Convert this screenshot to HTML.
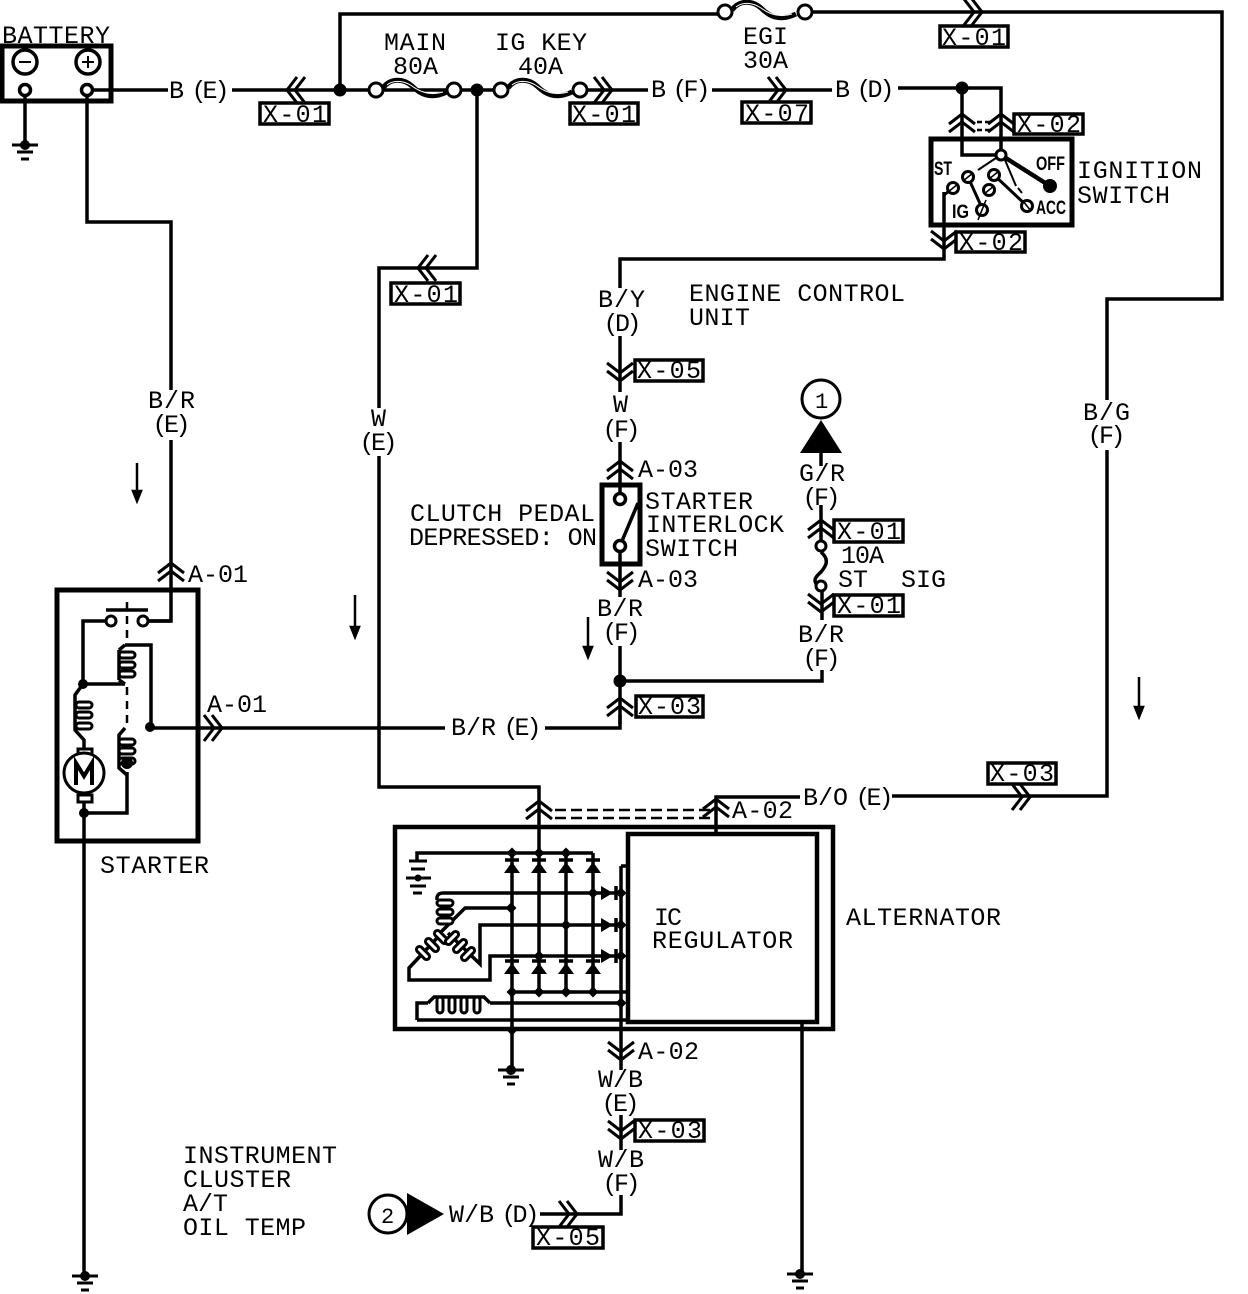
<!DOCTYPE html>
<html><head><meta charset="utf-8"><style>
html,body{margin:0;padding:0;background:#fff}
svg{display:block}
text{font-family:"Liberation Mono",monospace;font-size:25px;fill:#000;stroke:none}
.s{font-family:"Liberation Sans",sans-serif;font-weight:bold;font-size:19.5px}
</style></head><body>
<svg width="1248" height="1294" viewBox="0 0 1248 1294" xmlns="http://www.w3.org/2000/svg">
<defs>
<g id="up" fill="none" stroke="#000" stroke-width="3"><path d="M-13,10 L0,0 L13,10"/><path d="M-13,18 L0,8 L13,18"/></g>
<g id="gnd" stroke="#000" stroke-width="3"><path d="M-13,0H13M-8,7H8M-4,14H4"/><circle r="3.5" fill="#000"/></g>
<g id="dv"><path d="M-8,13 L0,2 L8,13Z" fill="#000"/><path d="M-7,0H7" stroke="#000" stroke-width="3.5"/></g>
<g id="dh"><path d="M-9,-7 L3,0 L-9,7Z" fill="#000"/><path d="M6,-7V7" stroke="#000" stroke-width="3.5"/></g>
<path id="dm" d="M-5.5,0 L0,-5.5 L5.5,0 L0,5.5Z" fill="#000"/>
<g id="fuse" fill="none"><path d="M0,0 C7,-10 20,-10 29,-2 C37,6 47,12 64,4" stroke="#000" stroke-width="5"/><path d="M4,-3 C10,-8 20,-8 29,-2 C37,4 47,8 60,4" stroke="#fff" stroke-width="1"/></g>
<rect id="ovH" x="0" y="-3" width="16" height="6" rx="3" fill="#fff" stroke="#000" stroke-width="3"/>
</defs>

<!-- wires -->
<g fill="none" stroke="#000" stroke-width="3.5">
<path d="M87,90H168M232,90H369M383,90H447M461,90H494M588,90H648M712,90H832M898,88H1001V150"/>
<path d="M962,88V155H996"/>
<path d="M340,90V14H720M812,12H1222V299H1107V400M1107,450V796H892M800,797H716V833"/>
<path d="M87,95V222H171V390M171,440V621H148"/>
<path d="M25,95V145"/>
<path d="M477,90V268H379V408M379,456V787H539V992"/>
<path d="M944,192V259H620V288M620,336V392M620,442V494M620,551V597M620,646V724"/>
<path d="M620,681H822V670M822,620V592M821,552V505M821,453V466"/>
<path d="M150,728H445M545,728H620V715"/>
<path d="M84,802V1275M84,813H127V772"/>
<path d="M802,1022V1272"/>
<path d="M621,1050V1070M621,1115V1150M621,1195V1214H540"/>
<path d="M106,621H83V684H125"/>
<path d="M125,645H151V728"/>
<path d="M83,684L75,695V730L84,740V748"/>
<path d="M119,650L125,645M119,680L125,684M125,728L119,735V768L127,775"/>
</g>

<!-- thick boxes -->
<g fill="none" stroke="#000">
<rect x="2" y="46" width="109" height="55" stroke-width="5"/>
<rect x="931" y="139" width="141" height="86" stroke-width="5"/>
<rect x="602" y="485" width="38" height="79" stroke-width="5"/>
<rect x="57" y="590" width="141" height="251" stroke-width="5"/>
<rect x="395" y="827" width="438" height="202" stroke-width="4.5"/>
<rect x="628" y="834" width="189" height="188" stroke-width="4.5"/>
</g>

<!-- label boxes -->
<g fill="#fff" stroke="#000" stroke-width="3.5">
<rect x="260" y="103" width="69" height="21"/><rect x="570" y="103" width="68" height="21"/>
<rect x="742" y="102" width="69" height="21"/><rect x="940" y="26" width="68" height="21"/>
<rect x="1014" y="114" width="69" height="20"/><rect x="956" y="232" width="69" height="20"/>
<rect x="391" y="283" width="69" height="21"/><rect x="635" y="360" width="68" height="21"/>
<rect x="834" y="520" width="69" height="22"/><rect x="834" y="595" width="69" height="21"/>
<rect x="636" y="696" width="67" height="21"/><rect x="988" y="763" width="68" height="21"/>
<rect x="635" y="1120" width="69" height="21"/><rect x="533" y="1227" width="70" height="21"/>
</g>

<!-- battery -->
<g fill="#fff" stroke="#000" stroke-width="3.5">
<circle cx="25" cy="62" r="12"/><circle cx="88" cy="62" r="12"/>
<circle cx="25" cy="90" r="5.5"/><circle cx="87" cy="90" r="5.5"/>
</g>
<path d="M19,62H31M82,62H94M88,56V68" stroke="#000" stroke-width="2"/>
<use href="#gnd" x="25" y="145"/><use href="#gnd" x="85" y="1276"/><use href="#gnd" x="800" y="1274"/><use href="#gnd" x="511" y="1070"/>

<!-- fuses -->
<use href="#fuse" x="383" y="88"/><use href="#fuse" x="508" y="88"/><use href="#fuse" x="732" y="10"/>
<g fill="#fff" stroke="#000" stroke-width="3">
<circle cx="376" cy="90" r="7"/><circle cx="454" cy="90" r="7"/><circle cx="501" cy="90" r="7"/><circle cx="580" cy="90" r="7"/>
<circle cx="725" cy="12" r="7"/><circle cx="805" cy="12" r="7"/>
</g>
<g fill="#000"><circle cx="340" cy="90" r="6.5"/><circle cx="477" cy="90" r="6.5"/><circle cx="962" cy="88" r="6.5"/><circle cx="620" cy="681" r="6.5"/></g>

<!-- connectors -->
<use href="#up" transform="translate(287,90) rotate(-90)"/>
<use href="#up" transform="translate(612,90) rotate(90)"/>
<use href="#up" transform="translate(786,90) rotate(90)"/>
<use href="#up" transform="translate(982,12) rotate(90)"/>
<use href="#up" transform="translate(962,114)"/>
<use href="#up" transform="translate(1001,114)"/>
<use href="#up" transform="translate(944,249) rotate(180)"/>
<use href="#up" transform="translate(418,268) rotate(-90)"/>
<use href="#up" transform="translate(620,381) rotate(180)"/>
<use href="#up" transform="translate(620,461)"/>
<use href="#up" transform="translate(620,590) rotate(180)"/>
<use href="#up" transform="translate(620,698)"/>
<use href="#up" transform="translate(821,520)"/>
<use href="#up" transform="translate(821,612) rotate(180)"/>
<use href="#up" transform="translate(171,563)"/>
<use href="#up" transform="translate(222,728) rotate(90)"/>
<use href="#up" transform="translate(1030,797) rotate(90)"/>
<use href="#up" transform="translate(539,801)"/>
<use href="#up" transform="translate(716,799)"/>
<use href="#up" transform="translate(621,1060) rotate(180)"/>
<use href="#up" transform="translate(621,1139) rotate(180)"/>
<use href="#up" transform="translate(577,1214) rotate(90)"/>

<!-- ignition switch internals -->
<g fill="none" stroke="#000" stroke-width="3">
<path d="M1001,155 L1050,186" stroke-width="4.5"/>
<path d="M996,158 L978,170" stroke-width="2"/>
<path d="M1005,160 L1016,186M1018,188 L1022,193" stroke-width="2" />
<path d="M968,177 L982,208"/><path d="M994,175 L1027,206"/>
<path d="M953,188 L944,195"/>
</g>
<path d="M977,122 H993 M977,130 H993" stroke="#000" stroke-width="2.5" stroke-dasharray="5 3"/>
<g fill="#fff" stroke="#000" stroke-width="3">
<circle cx="1001" cy="155" r="5"/><circle cx="968" cy="177" r="5.5"/><circle cx="994" cy="175" r="5.5"/>
<circle cx="953" cy="188" r="5.5"/><circle cx="989" cy="190" r="5.5"/><circle cx="982" cy="210" r="5.5"/><circle cx="1027" cy="206" r="5.5"/>
</g>
<circle cx="1050" cy="186" r="7" fill="#000"/>
<g stroke="#000" stroke-width="1.6"><path d="M963,181L973,173M989,179L999,171M948,192L958,184M984,194L994,186M978,220L986,200M1023,201L1031,211"/></g>
<text class="s" x="934" y="175" textLength="18" lengthAdjust="spacingAndGlyphs">ST</text>
<text class="s" x="952" y="218" textLength="17" lengthAdjust="spacingAndGlyphs">IG</text>
<text class="s" x="1036" y="170" textLength="29" lengthAdjust="spacingAndGlyphs">OFF</text>
<text class="s" x="1036" y="214" textLength="30" lengthAdjust="spacingAndGlyphs">ACC</text>

<!-- interlock switch -->
<g fill="#fff" stroke="#000" stroke-width="3.5"><circle cx="620" cy="499" r="5.5"/><circle cx="620" cy="546" r="5.5"/></g>
<path d="M622,541 L638,503" stroke="#000" stroke-width="3.5"/>

<!-- relay 1 / fuse 10A -->
<circle cx="821" cy="399" r="19" fill="#fff" stroke="#000" stroke-width="3"/>
<path d="M821,420 L800,453 H842Z" fill="#000"/>
<path d="M821,552 C830,560 826,566 821,572 C814,578 812,582 821,588" fill="none" stroke="#000" stroke-width="3.5"/>
<g fill="#fff" stroke="#000" stroke-width="3"><circle cx="821" cy="546" r="5"/><circle cx="821" cy="586" r="5"/></g>

<circle cx="388" cy="1214" r="19" fill="#fff" stroke="#000" stroke-width="3"/>
<path d="M407,1193 L444,1214 L407,1235Z" fill="#000"/>

<!-- direction arrows -->
<g stroke="#000" stroke-width="2.5" fill="#000">
<path d="M137,463V495"/><path d="M133,491L137,501L141,491Z"/>
<path d="M355,595V630"/><path d="M351,627L355,637L359,627Z"/>
<path d="M588,617V650"/><path d="M584,647L588,657L592,647Z"/>
<path d="M1139,677V710"/><path d="M1135,707L1139,717L1143,707Z"/>
</g>

<!-- starter internals -->
<path d="M106,610H148" stroke="#000" stroke-width="3.5" fill="none"/>
<path d="M127,602V643M127,687V724" stroke="#000" stroke-width="2.5" stroke-dasharray="8 6" fill="none"/>
<g fill="#fff" stroke="#000" stroke-width="3"><circle cx="111" cy="621" r="5"/><circle cx="143" cy="621" r="5"/></g>
<path d="M148,621H171" stroke="#000" stroke-width="3.5"/>
<use href="#ovH" x="119" y="655"/><use href="#ovH" x="119" y="665"/><use href="#ovH" x="119" y="674"/>
<use href="#ovH" x="119" y="742"/><use href="#ovH" x="119" y="751"/><use href="#ovH" x="119" y="761"/>
<use href="#ovH" x="76" y="705"/><use href="#ovH" x="76" y="715"/><use href="#ovH" x="76" y="726"/>
<path d="M119,650V680" stroke="#000" stroke-width="3.5"/>
<circle cx="127" cy="763" r="6" fill="#000"/>
<g fill="#000"><circle cx="83" cy="684" r="5"/><circle cx="150" cy="727" r="5"/><circle cx="84" cy="813" r="5"/></g>
<rect x="78" y="749" width="14" height="7" fill="#fff" stroke="#000" stroke-width="3"/>
<rect x="78" y="795" width="14" height="7" fill="#fff" stroke="#000" stroke-width="3"/>
<circle cx="84" cy="773" r="20" fill="#fff" stroke="#000" stroke-width="3"/>
<path d="M76,785V763L84,776L92,763V785" fill="none" stroke="#000" stroke-width="4"/>

<!-- alternator internals -->
<path d="M555,810H716M555,818H716" stroke="#000" stroke-width="2.5" stroke-dasharray="11 5"/>
<g fill="none" stroke="#000" stroke-width="3.5">
<path d="M417,860V853H593"/>
<path d="M512,853V1070M566,853V992M593,853V992"/>
<path d="M437,900V897Q438,893 443,893H620"/>
<path d="M511,908H465L440,933"/>
<path d="M620,925H480V964L448,933"/>
<path d="M620,956H490V980H409V968L438,937"/>
<path d="M511,992H628"/>
<path d="M490,1003H621M417,1020H628M417,1020V1003H428"/>
<path d="M621,866V1050M621,866H628"/>
<path d="M428,1003l6,-6H484l6,6"/>
</g>
<path d="M409,861H427M411,869H425M406,878H431M410,886H426M413,893H422" stroke="#000" stroke-width="3" fill="none"/>
<circle cx="418" cy="878" r="3.5" fill="#000"/>
<g>
<use href="#ovH" x="437" y="903"/><use href="#ovH" x="437" y="912"/><use href="#ovH" x="437" y="921"/>
<use href="#ovH" transform="translate(423,953) rotate(45) translate(-8,0)"/>
<use href="#ovH" transform="translate(432,945) rotate(45) translate(-8,0)"/>
<use href="#ovH" transform="translate(441,937) rotate(45) translate(-8,0)"/>
<use href="#ovH" transform="translate(452,938) rotate(-45) translate(-8,0)"/>
<use href="#ovH" transform="translate(460,946) rotate(-45) translate(-8,0)"/>
<use href="#ovH" transform="translate(468,954) rotate(-45) translate(-8,0)"/>
<use href="#ovH" transform="translate(440,1005) rotate(90) translate(-8,0)"/>
<use href="#ovH" transform="translate(452,1005) rotate(90) translate(-8,0)"/>
<use href="#ovH" transform="translate(464,1005) rotate(90) translate(-8,0)"/>
<use href="#ovH" transform="translate(477,1005) rotate(90) translate(-8,0)"/>
</g>
<use href="#dv" x="512" y="860"/><use href="#dv" x="539" y="860"/><use href="#dv" x="566" y="860"/><use href="#dv" x="593" y="860"/>
<use href="#dv" x="512" y="961"/><use href="#dv" x="539" y="961"/><use href="#dv" x="566" y="961"/><use href="#dv" x="593" y="961"/>
<use href="#dh" x="610" y="893"/><use href="#dh" x="610" y="925"/><use href="#dh" x="610" y="956"/>
<use href="#dm" x="512" y="853"/><use href="#dm" x="539" y="853"/><use href="#dm" x="566" y="853"/>
<use href="#dm" x="593" y="893"/><use href="#dm" x="621" y="893"/><use href="#dm" x="511" y="908"/><use href="#dm" x="566" y="925"/><use href="#dm" x="621" y="925"/><use href="#dm" x="539" y="956"/><use href="#dm" x="621" y="956"/>
<use href="#dm" x="512" y="992"/><use href="#dm" x="539" y="992"/><use href="#dm" x="566" y="992"/><use href="#dm" x="593" y="992"/><use href="#dm" x="621" y="1003"/><use href="#dm" x="512" y="1030"/>

<!-- text -->
<text x="2" y="43" textLength="108">BATTERY</text>
<text x="169 180 191.5 202.5 214.5" y="98">B (E)</text>
<text x="384" y="50" textLength="62">MAIN</text>
<text x="393" y="74" textLength="45">80A</text>
<text x="495" y="50" textLength="92">IG KEY</text>
<text x="518" y="74" textLength="45">40A</text>
<text x="743" y="44" textLength="45">EGI</text>
<text x="743" y="68" textLength="45">30A</text>
<text x="651 662 672.5 683.5 695.5" y="97">B (F)</text>
<text x="835 846 856.5 867.5 879.5" y="97">B (D)</text>
<text x="263" y="122" textLength="64">X-01</text>
<text x="572" y="122" textLength="64">X-01</text>
<text x="745" y="121" textLength="64">X-07</text>
<text x="942" y="45" textLength="64">X-01</text>
<text x="1017" y="132" textLength="64">X-02</text>
<text x="959" y="250" textLength="64">X-02</text>
<text x="394" y="302" textLength="64">X-01</text>
<text x="637" y="378" textLength="64">X-05</text>
<text x="837" y="539" textLength="64">X-01</text>
<text x="837" y="613" textLength="64">X-01</text>
<text x="638" y="714" textLength="63">X-03</text>
<text x="990" y="781" textLength="64">X-03</text>
<text x="638" y="1138" textLength="64">X-03</text>
<text x="536" y="1245" textLength="64">X-05</text>
<text x="1077" y="178" textLength="125">IGNITION</text>
<text x="1077" y="203" textLength="93">SWITCH</text>
<text x="689" y="301" textLength="216">ENGINE CONTROL</text>
<text x="689" y="325" textLength="61">UNIT</text>
<text x="598" y="307" textLength="47">B/Y</text>
<text x="603.5 615 626.5" y="331">(D)</text>
<text x="613" y="412" textLength="17">W</text>
<text x="602.5 614 625.5" y="437">(F)</text>
<text x="638" y="477" textLength="60">A-03</text>
<text x="645" y="509" textLength="108">STARTER</text>
<text x="646" y="532" textLength="138">INTERLOCK</text>
<text x="645" y="556" textLength="93">SWITCH</text>
<text x="410" y="521" textLength="185">CLUTCH PEDAL</text>
<text x="409" y="545" textLength="188">DEPRESSED: ON</text>
<text x="638" y="587" textLength="60">A-03</text>
<text x="597" y="616" textLength="46">B/R</text>
<text x="602.5 614 625.5" y="640">(F)</text>
<text x="799" y="481" textLength="46">G/R</text>
<text x="802.5 814 825.5" y="505">(F)</text>
<text x="841" y="563" textLength="43">10A</text>
<text x="838" y="587" textLength="30">ST</text>
<text x="901" y="587" textLength="45">SIG</text>
<text x="798" y="642" textLength="46">B/R</text>
<text x="802.5 814 825.5" y="666">(F)</text>
<text x="148" y="408" textLength="47">B/R</text>
<text x="152.5 164 175.5" y="432">(E)</text>
<text x="371" y="426" textLength="15">W</text>
<text x="359.5 371 382.5" y="450">(E)</text>
<text x="188" y="582" textLength="60">A-01</text>
<text x="207" y="712" textLength="60">A-01</text>
<text x="451 466 481 496 503.5 514.5 526.5" y="735">B/R (E)</text>
<text x="100" y="873" textLength="109">STARTER</text>
<text x="803 818 833 848 855.5 866.5 878.5" y="805">B/O (E)</text>
<text x="732" y="818" textLength="61">A-02</text>
<text x="846" y="925" textLength="155">ALTERNATOR</text>
<text x="654" y="925" textLength="28">IC</text>
<text x="652" y="948" textLength="141">REGULATOR</text>
<text x="1083" y="420" textLength="47">B/G</text>
<text x="1087.5 1099 1110.5" y="443">(F)</text>
<text x="638" y="1059" textLength="61">A-02</text>
<text x="598" y="1087" textLength="45">W/B</text>
<text x="601.5 613 624.5" y="1111">(E)</text>
<text x="598" y="1167" textLength="46">W/B</text>
<text x="602.5 614 625.5" y="1191">(F)</text>
<text x="183" y="1163" textLength="154">INSTRUMENT</text>
<text x="183" y="1187" textLength="108">CLUSTER</text>
<text x="183" y="1211" textLength="45">A/T</text>
<text x="183" y="1235" textLength="123">OIL TEMP</text>
<text x="449 464 479 494 501.5 512.5 524.5" y="1222">W/B (D)</text>
<text x="815" y="408" style="font-size:22px" textLength="13">1</text>
<text x="381" y="1223" style="font-size:22px" textLength="14">2</text>
</svg>
</body></html>
